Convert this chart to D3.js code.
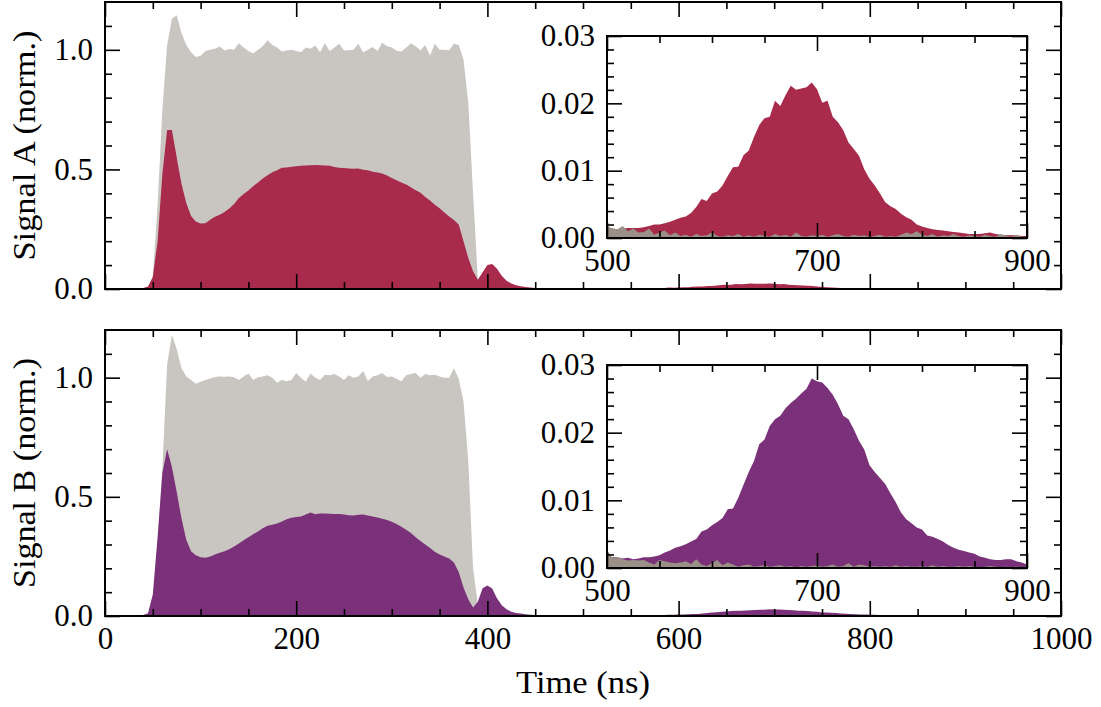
<!DOCTYPE html>
<html><head><meta charset="utf-8">
<script src="https://cdn.jsdelivr.net/npm/d3@7"></script>
<style>
body{margin:0;background:#fff}
</style>
</head><body>
<svg id="chart" width="1101" height="707"></svg>
<script>
// ---------------- data (sampled every 5 ns, 0..1000 ns) ----------------
const times = d3.range(0, 1001, 5);

const refA = [
 0,0,0,0,0,0,0,0,0,0.003,
 0.05,0.35,0.75,1.02,1.13,1.145,1.07,1.02,0.99,0.97,
 0.975,0.995,1.0,1.005,1.014,0.997,1.003,1.0,1.028,1.01,
 0.995,0.985,1.0,1.015,1.04,1.02,1.01,0.993,0.997,1.0,
 0.995,0.99,1.01,1.005,1.018,0.99,1.028,0.995,1.01,1.025,
 0.997,0.998,1.0,1.025,0.99,1.0,1.012,0.995,1.03,1.015,
 1.01,0.996,0.993,1.01,1.028,1.015,0.998,1.02,0.976,1.025,
 1.0,1.0,0.998,1.025,1.02,0.96,0.78,0.40,0.04,0.04,
 0.06,0.06,0.04,0.025,0.012,0.008,0.005,0.003,0.002,0.002,
 0.002,0.0015,0.0015,0.0012,0.0012,0.001,0.001,0.001,0.0012,0.0015,
 0.0018,0.0014,0.0013,0.0018,0.001,0.0014,0.0008,0.0009,0.0014,0.0005,
 0.0008,0.0011,0.0004,0.0008,0.0003,0.0005,0.0002,0.0006,0.0003,0.0004,
 0.0008,0.0003,0.0002,0.0004,0.0003,0.0006,0.0002,0.0004,0.0002,0.0005,
 0.0003,0.0002,0.0006,0.0003,0.0005,0.0002,0.0008,0.0003,0.0002,0.0004,
 0.0003,0.0005,0.0002,0.0004,0.0006,0.0003,0.0002,0.0005,0.0003,0.0004,
 0.0002,0.0003,0.0005,0.0002,0.0003,0.0002,0.0005,0.0008,0.0006,0.001,
 0.0005,0.0003,0.0006,0.0002,0.0004,0.0003,0.0006,0.0003,0.0002,0.0004,
 0.0003,0.0002,0.0005,0.0003,0.0002,0.0006,0.0003,0.0002,0.0004,0.0002,
 0.0001,0.0002,0.0001,0.0003,0.0001,0.0002,0.0001,0.0002,0.0001,0.0001,
 0.0002,0.0001,0.0001,0.0002,0.0001,0.0001,0.0001,0.0002,0.0001,0.0001,
 0.0001
];

const sigA = [
 0.003,0.003,0.003,0.003,0.003,0.003,0.003,0.003,0.004,0.01,
 0.05,0.2,0.48,0.665,0.665,0.55,0.44,0.36,0.305,0.282,
 0.274,0.275,0.29,0.302,0.31,0.322,0.337,0.355,0.38,0.397,
 0.412,0.43,0.445,0.462,0.476,0.488,0.497,0.507,0.508,0.511,
 0.513,0.515,0.516,0.517,0.518,0.517,0.516,0.515,0.51,0.507,
 0.506,0.504,0.503,0.504,0.499,0.497,0.49,0.487,0.483,0.475,
 0.464,0.455,0.445,0.437,0.425,0.413,0.402,0.385,0.37,0.352,
 0.338,0.32,0.303,0.288,0.27,0.2,0.13,0.074,0.039,0.07,
 0.1,0.105,0.085,0.055,0.035,0.023,0.016,0.011,0.008,0.006,
 0.004,0.003,0.003,0.0025,0.0025,0.002,0.002,0.0018,0.0016,0.0015,
 0.0013,0.0014,0.0013,0.0014,0.0015,0.0015,0.0015,0.0016,0.0018,0.002,
 0.002,0.0022,0.0024,0.0027,0.003,0.0032,0.0037,0.0046,0.0058,0.0055,
 0.0066,0.0069,0.0078,0.0092,0.0105,0.0106,0.0123,0.013,0.015,0.0168,
 0.0178,0.018,0.0204,0.0196,0.0212,0.0226,0.022,0.0222,0.0224,0.0231,
 0.0221,0.0201,0.0204,0.018,0.0172,0.016,0.0142,0.0132,0.0122,0.0102,
 0.0088,0.0078,0.0066,0.0053,0.0047,0.0043,0.0036,0.0031,0.0027,0.002,
 0.0017,0.0015,0.0013,0.0012,0.0011,0.001,0.0009,0.0008,0.0007,0.0006,
 0.0006,0.0006,0.0007,0.0008,0.0006,0.0005,0.0004,0.0004,0.0004,0.0003,
 0.0003,0.0003,0.0003,0.0003,0.0002,0.0002,0.0002,0.0002,0.0002,0.0002,
 0.0001,0.0001,0.0001,0.0001,0.0001,0.0001,0.0001,0.0001,0.0001,0.0001,
 0.0001
];

const refB = [
 0,0,0,0,0,0,0,0,0,0.003,
 0.04,0.3,0.62,1.055,1.18,1.12,1.04,1.005,0.99,0.975,
 0.983,0.99,0.997,1.003,1.005,1.004,1.005,1.002,0.99,1.005,
 1.017,0.99,1.002,1.005,1.01,1.0,0.979,0.99,0.985,0.99,
 1.02,1.0,0.983,1.017,1.0,0.99,1.012,1.01,1.015,1.005,
 0.99,1.01,1.0,1.005,1.028,0.986,1.005,1.01,1.02,1.003,
 1.005,0.995,0.985,1.01,1.015,1.02,1.0,1.015,1.01,1.012,
 1.005,1.0,1.0,1.04,0.995,0.9,0.65,0.2,0.05,0.08,
 0.1,0.09,0.06,0.035,0.02,0.012,0.008,0.005,0.003,0.003,
 0.0025,0.002,0.002,0.002,0.0018,0.0018,0.0018,0.0015,0.0015,0.0015,
 0.0027,0.0015,0.0016,0.0013,0.0011,0.0012,0.0011,0.0012,0.0008,0.0005,
 0.0012,0.001,0.0008,0.0007,0.0008,0.001,0.0006,0.0013,0.0005,0.0003,
 0.0007,0.0012,0.0004,0.0008,0.0005,0.0002,0.0004,0.0005,0.0002,0.0003,
 0.0004,0.0002,0.0003,0.0004,0.0002,0.0003,0.0001,0.0003,0.0002,0.0003,
 0.0004,0.0002,0.0003,0.0005,0.0002,0.0003,0.0007,0.0002,0.0005,0.0004,
 0.0002,0.0003,0.0002,0.0003,0.0002,0.0004,0.0002,0.0003,0.0002,0.0002,
 0.0003,0.0002,0.0004,0.0002,0.0003,0.0002,0.0002,0.0003,0.0002,0.0003,
 0.0002,0.0001,0.0002,0.0003,0.0002,0.0001,0.0002,0.0001,0.0002,0.0001,
 0.0001,0.0001,0.0001,0.0001,0.0001,0.0001,0.0001,0.0001,0.0001,0.0001,
 0.0001,0.0001,0.0001,0.0001,0.0001,0.0001,0.0001,0.0001,0.0001,0.0001,
 0.0001
];

const sigB = [
 0.003,0.003,0.003,0.003,0.003,0.003,0.003,0.003,0.004,0.012,
 0.09,0.33,0.6,0.7,0.625,0.52,0.41,0.32,0.272,0.255,
 0.246,0.244,0.25,0.258,0.265,0.272,0.28,0.292,0.304,0.318,
 0.33,0.343,0.355,0.368,0.379,0.383,0.388,0.397,0.406,0.412,
 0.415,0.418,0.426,0.434,0.427,0.43,0.43,0.429,0.428,0.428,
 0.426,0.423,0.422,0.425,0.426,0.422,0.418,0.413,0.408,0.403,
 0.395,0.386,0.375,0.362,0.348,0.33,0.315,0.3,0.285,0.27,
 0.258,0.25,0.241,0.225,0.185,0.12,0.07,0.036,0.06,0.116,
 0.128,0.115,0.075,0.045,0.028,0.018,0.013,0.01,0.007,0.005,
 0.004,0.004,0.003,0.003,0.0025,0.0022,0.002,0.0018,0.0016,0.0015,
 0.0015,0.0016,0.0016,0.0014,0.0015,0.0013,0.0014,0.0016,0.0016,0.0017,
 0.0019,0.0023,0.0026,0.003,0.0032,0.0035,0.0039,0.0043,0.0054,0.0057,
 0.0063,0.0068,0.0074,0.0087,0.0088,0.0104,0.0123,0.0142,0.0158,0.0183,
 0.019,0.021,0.022,0.0225,0.0236,0.0244,0.025,0.0258,0.0265,0.028,
 0.0276,0.0274,0.0266,0.0256,0.0242,0.0225,0.022,0.0205,0.0188,0.0175,
 0.0152,0.0142,0.0133,0.0124,0.011,0.0097,0.0082,0.0072,0.0066,0.006,
 0.0057,0.0048,0.0046,0.0043,0.0039,0.0034,0.003,0.0027,0.0025,0.0023,
 0.0021,0.0017,0.0015,0.0013,0.0012,0.0012,0.0013,0.0013,0.001,0.0008,
 0.0005,0.0005,0.0004,0.0004,0.0003,0.0003,0.0003,0.0002,0.0002,0.0002,
 0.0002,0.0002,0.0001,0.0001,0.0001,0.0001,0.0001,0.0001,0.0001,0.0001,
 0.0001
];

// ticks
const xMajorMain = [0,200,400,600,800,1000];
const xMinorMain = [50,100,150,250,300,350,450,500,550,650,700,750,850,900,950];
const yMajorMain = [0.0,0.5,1.0];
const yMinorMain = [0.1,0.2,0.3,0.4,0.6,0.7,0.8,0.9,1.1];
const xMajorInset = [500,700,900];
const xMinorInset = [550,600,650,750,800,850];
const yMajorInset = [0.00,0.01,0.02,0.03];
const yMinorInset = [0.002,0.004,0.006,0.008,0.012,0.014,0.016,0.018,0.022,0.024,0.026,0.028];

const panels = [
  {label:"Signal A (norm.)", ref:refA, sig:sigA, color:"#a92b4b", top:2, bottom:289, insetTop:36, insetBottom:238, xLabels:false},
  {label:"Signal B (norm.)", ref:refB, sig:sigB, color:"#7b3179", top:330, bottom:616, insetTop:365, insetBottom:568, xLabels:true}
];

// ---------------- drawing ----------------
const FONT = "'Liberation Serif', cursive";
const FS = 31;
const svg = d3.select("#chart");
const mainLeft = 105, mainRight = 1061;
const insetLeft = 607, insetRight = 1027;
const MAJ = 15, MIN = 7;
const refGray = "#c9c6c1", insetGray = "#9a9087";

function styleText(sel) {
  sel.attr("font-family", null).style("font-family", FONT).attr("font-size", FS).attr("fill", "#000");
}

function frameAxes(g, x, y, xMaj, xMin, yMaj, yMin, xFmt, yFmt, showX, showY) {
  const [x0, x1] = x.range();
  const [yb, yt] = y.range();
  const ax = [];
  ax.push(g.append("g").attr("transform", `translate(0,${yb})`)
    .call(d3.axisBottom(x).tickValues(xMaj).tickSize(-MAJ).tickSizeOuter(0).tickPadding(0).tickFormat(showX ? xFmt : "")));
  ax.push(g.append("g").attr("transform", `translate(0,${yb})`)
    .call(d3.axisBottom(x).tickValues(xMin).tickSize(-MIN).tickSizeOuter(0).tickFormat("")));
  ax.push(g.append("g").attr("transform", `translate(0,${yt})`)
    .call(d3.axisTop(x).tickValues(xMaj).tickSize(-MAJ).tickSizeOuter(0).tickFormat("")));
  ax.push(g.append("g").attr("transform", `translate(0,${yt})`)
    .call(d3.axisTop(x).tickValues(xMin).tickSize(-MIN).tickSizeOuter(0).tickFormat("")));
  ax.push(g.append("g").attr("transform", `translate(${x0},0)`)
    .call(d3.axisLeft(y).tickValues(yMaj).tickSize(-MAJ).tickSizeOuter(0).tickPadding(12).tickFormat(showY ? yFmt : "")));
  ax.push(g.append("g").attr("transform", `translate(${x0},0)`)
    .call(d3.axisLeft(y).tickValues(yMin).tickSize(-MIN).tickSizeOuter(0).tickFormat("")));
  ax.push(g.append("g").attr("transform", `translate(${x1},0)`)
    .call(d3.axisRight(y).tickValues(yMaj).tickSize(-MAJ).tickSizeOuter(0).tickFormat("")));
  ax.push(g.append("g").attr("transform", `translate(${x1},0)`)
    .call(d3.axisRight(y).tickValues(yMin).tickSize(-MIN).tickSizeOuter(0).tickFormat("")));
  ax.forEach(a => {
    a.attr("font-family", null).attr("font-size", null).style("font-family", FONT);
    a.select(".domain").remove();
    a.selectAll(".tick line").attr("stroke", "#000").attr("stroke-width", 1.6);
    styleText(a.selectAll("text"));
  });
  ax[0].selectAll("text").attr("y", 33).attr("dy", null);
  g.append("rect").attr("x", x0).attr("y", yt).attr("width", x1 - x0).attr("height", yb - yt)
    .attr("fill", "none").attr("stroke", "#000").attr("stroke-width", 2);
}

panels.forEach((p, i) => {
  const g = svg.append("g");
  const x = d3.scaleLinear().domain([0, 1000]).range([mainLeft, mainRight]);
  const y = d3.scaleLinear().domain([0, 1.2]).range([p.bottom, p.top]);
  const clipId = "clip" + i;
  svg.append("clipPath").attr("id", clipId).append("rect")
    .attr("x", mainLeft).attr("y", p.top).attr("width", mainRight - mainLeft).attr("height", p.bottom - p.top);
  const area = d3.area().x((d, j) => x(times[j])).y0(y(0)).y1(d => y(d));
  const plot = g.append("g").attr("clip-path", `url(#${clipId})`);
  plot.append("path").datum(p.ref).attr("d", area).attr("fill", refGray);
  plot.append("path").datum(p.sig).attr("d", area).attr("fill", p.color);
  frameAxes(g, x, y, xMajorMain, xMinorMain, yMajorMain, yMinorMain, d3.format("d"), d3.format(".1f"), p.xLabels, true);

  const yl = g.append("text").attr("transform", `translate(35,${(p.top + p.bottom) / 2}) rotate(-90)`)
    .attr("text-anchor", "middle")
    .attr("textLength", 230).attr("lengthAdjust", "spacingAndGlyphs").text(p.label);
  styleText(yl);

  // inset
  const gi = svg.append("g");
  const xi = d3.scaleLinear().domain([500, 900]).range([insetLeft, insetRight]);
  const yi = d3.scaleLinear().domain([0, 0.03]).range([p.insetBottom, p.insetTop]);
  gi.append("rect").attr("x", insetLeft).attr("y", p.insetTop).attr("width", insetRight - insetLeft)
    .attr("height", p.insetBottom - p.insetTop).attr("fill", "#fff");
  const cid = "iclip" + i;
  svg.append("clipPath").attr("id", cid).append("rect")
    .attr("x", insetLeft).attr("y", p.insetTop).attr("width", insetRight - insetLeft).attr("height", p.insetBottom - p.insetTop);
  const idx = times.map((t, j) => j).filter(j => times[j] >= 500 && times[j] <= 900);
  const iarea = arr => d3.area().x(j => xi(times[j])).y0(yi(0)).y1(j => yi(arr[j]))(idx);
  const ip = gi.append("g").attr("clip-path", `url(#${cid})`);
  ip.append("path").attr("d", iarea(p.sig)).attr("fill", p.color);
  ip.append("path").attr("d", iarea(p.ref)).attr("fill", insetGray);
  frameAxes(gi, xi, yi, xMajorInset, xMinorInset, yMajorInset, yMinorInset, d3.format("d"), d3.format(".2f"), true, true);
});

const xl = svg.append("text").attr("x", (mainLeft + mainRight) / 2).attr("y", 693)
  .attr("text-anchor", "middle")
  .attr("textLength", 134).attr("lengthAdjust", "spacingAndGlyphs").text("Time (ns)");
styleText(xl);
</script>
</body></html>
